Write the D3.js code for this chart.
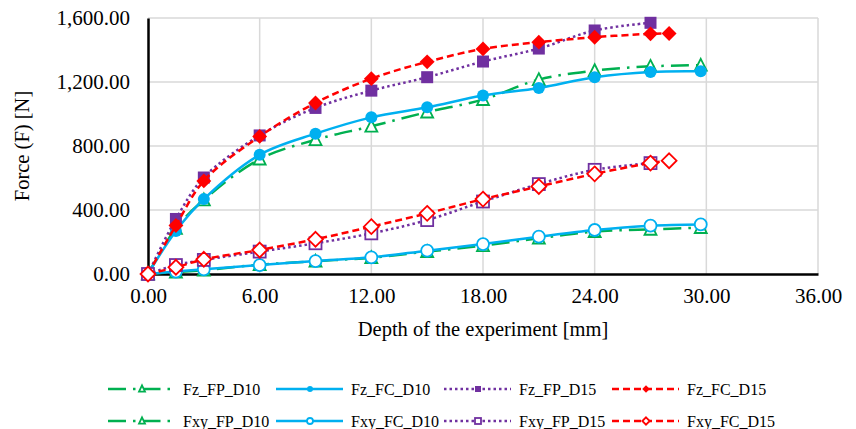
<!DOCTYPE html>
<html>
<head>
<meta charset="utf-8">
<script src="https://cdn.jsdelivr.net/npm/d3@7"></script>
<style>
  body { margin: 0; background: #fff; }
  text { font-family: "Liberation Serif", "Times New Roman", serif; fill: #000; }
</style>
</head>
<body>
<div id="chart"></div>
<script>
// depth values [mm]
var xD10 = [0, 1.5, 3, 6, 9, 12, 15, 18, 21, 24, 27, 29.7];
var xFP15 = [0, 1.5, 3, 6, 9, 12, 15, 18, 21, 24, 27];
var xFC15 = [0, 1.5, 3, 6, 9, 12, 15, 18, 21, 24, 27, 28];

// forces [N]
var fzFP10 = [0, 285, 463, 718, 839, 923, 1012, 1090, 1215, 1271, 1298, 1305];
var fzFC10 = [0, 269, 468, 745, 877, 979, 1042, 1115, 1163, 1230, 1263, 1267];
var fzFP15 = [0, 344, 603, 866, 1038, 1146, 1230, 1328, 1409, 1522, 1570];
var fzFC15 = [0, 303, 582, 860, 1069, 1221, 1326, 1407, 1449, 1480, 1501, 1503];
var fxyFP10 = [0, 12, 24, 58, 80, 102, 140, 177, 223, 265, 279, 290];
var fxyFC10 = [0, 15, 29, 56, 81, 104, 146, 187, 233, 275, 302, 310];
var fxyFP15 = [0, 56, 88, 140, 192, 254, 337, 453, 562, 651, 693];
var fxyFC15 = [0, 42, 92, 150, 217, 296, 379, 468, 547, 626, 693, 708];

var xTicks = [0, 6, 12, 18, 24, 30, 36];
var yTicks = [0, 400, 800, 1200, 1600];

var width = 856, height = 429;
var margin = { top: 18, right: 38, bottom: 155, left: 148 };

var series = [
  { name: 'Fz_FP_D10', x: xD10, y: fzFP10, color: '#00b050', dash: '18,7,2.5,7', marker: 'triangle', fill: false },
  { name: 'Fz_FC_D10', x: xD10, y: fzFC10, color: '#00b0f0', dash: null, marker: 'circle', fill: true },
  { name: 'Fz_FP_D15', x: xFP15, y: fzFP15, color: '#7030a0', dash: '2.5,3', marker: 'square', fill: true },
  { name: 'Fz_FC_D15', x: xFC15, y: fzFC15, color: '#ff0000', dash: '7,4', marker: 'diamond', fill: true },
  { name: 'Fxy_FP_D10', x: xD10, y: fxyFP10, color: '#00b050', dash: '18,7,2.5,7', marker: 'triangle', fill: false },
  { name: 'Fxy_FC_D10', x: xD10, y: fxyFC10, color: '#00b0f0', dash: null, marker: 'circle', fill: false },
  { name: 'Fxy_FP_D15', x: xFP15, y: fxyFP15, color: '#7030a0', dash: '2.5,3', marker: 'square', fill: false },
  { name: 'Fxy_FC_D15', x: xFC15, y: fxyFC15, color: '#ff0000', dash: '7,4', marker: 'diamond', fill: false }
];

var svg = d3.select('#chart').append('svg')
  .attr('width', width)
  .attr('height', height);

var x = d3.scaleLinear().domain([0, 36]).range([margin.left, width - margin.right]);
var y = d3.scaleLinear().domain([0, 1600]).range([height - margin.bottom, margin.top]);

// gridlines
svg.append('g').selectAll('line.gx')
  .data(xTicks.slice(1))
  .enter().append('line')
  .attr('x1', d => x(d)).attr('x2', d => x(d))
  .attr('y1', y(0)).attr('y2', y(1600))
  .attr('stroke', '#d9d9d9').attr('stroke-width', 1.5);

svg.append('g').selectAll('line.gy')
  .data(yTicks.slice(1))
  .enter().append('line')
  .attr('x1', x(0)).attr('x2', x(36))
  .attr('y1', d => y(d)).attr('y2', d => y(d))
  .attr('stroke', '#d9d9d9').attr('stroke-width', 1.5);

// axes
var fmt = d3.format(',.2f');
var xAxis = svg.append('g')
  .attr('transform', 'translate(0,' + y(0) + ')')
  .call(d3.axisBottom(x).tickValues(xTicks).tickFormat(fmt).tickSize(0).tickPadding(14));
var yAxis = svg.append('g')
  .attr('transform', 'translate(' + x(0) + ',0)')
  .call(d3.axisLeft(y).tickValues(yTicks).tickFormat(fmt).tickSize(0).tickPadding(18));

[xAxis, yAxis].forEach(function (g) {
  g.select('.domain').attr('stroke', '#000').attr('stroke-width', 2.5);
  g.selectAll('text')
    .style('font-family', '"Liberation Serif", "Times New Roman", serif')
    .style('font-size', '21px')
    .attr('fill', '#000');
});

svg.append('text')
  .attr('x', (x(0) + x(36)) / 2)
  .attr('y', 336)
  .attr('text-anchor', 'middle')
  .style('font-size', '20.5px')
  .text('Depth of the experiment [mm]');

svg.append('text')
  .attr('transform', 'translate(29,' + ((y(0) + y(1600)) / 2) + ') rotate(-90)')
  .attr('text-anchor', 'middle')
  .style('font-size', '20.5px')
  .text('Force (F) [N]');

// markers
function drawMarker(g, s, size) {
  var c = s.color;
  var fill = s.fill ? c : '#fff';
  var sw = s.fill ? 0 : 1.8;
  var m;
  if (s.marker === 'circle') {
    m = g.append('circle').attr('r', size / 2);
  } else if (s.marker === 'square') {
    m = g.append('rect').attr('x', -size / 2).attr('y', -size / 2).attr('width', size).attr('height', size);
  } else if (s.marker === 'diamond') {
    var h = size * 0.62;
    m = g.append('path').attr('d', 'M0,' + (-h) + 'L' + h + ',0L0,' + h + 'L' + (-h) + ',0Z');
  } else {
    var w = size / 2, t = size * 0.45;
    m = g.append('path').attr('d', 'M0,' + (-t - 1) + 'L' + w + ',' + t + 'L' + (-w) + ',' + t + 'Z');
    fill = '#fff';
    sw = 1.8;
  }
  m.attr('fill', fill).attr('stroke', c).attr('stroke-width', sw);
}

var line = d3.line()
  .x(d => x(d[0]))
  .y(d => y(d[1]))
  .curve(d3.curveCatmullRom.alpha(0.5));

series.forEach(function (s) {
  var pts = s.x.map((v, i) => [v, s.y[i]]);
  var g = svg.append('g').attr('class', 'series');
  g.append('path')
    .attr('d', line(pts))
    .attr('fill', 'none')
    .attr('stroke', s.color)
    .attr('stroke-width', 2.5)
    .attr('stroke-dasharray', s.dash);
  g.selectAll('g.pt')
    .data(pts)
    .enter().append('g')
    .attr('transform', d => 'translate(' + x(d[0]) + ',' + y(d[1]) + ')')
    .each(function () { drawMarker(d3.select(this), s, 12); });
});

// legend
var legend = svg.selectAll('.legendCells')
  .data(series)
  .enter().append('g')
  .attr('class', 'legendCells')
  .attr('transform', (d, i) => 'translate(' + (108 + (i % 4) * 168) + ',' + (389 + Math.floor(i / 4) * 32) + ')');

legend.append('line')
  .attr('x1', 0).attr('x2', 67)
  .attr('y1', 0).attr('y2', 0)
  .attr('stroke', d => d.color)
  .attr('stroke-width', 2.5)
  .attr('stroke-dasharray', d => d.dash);

legend.append('g')
  .attr('transform', 'translate(34,0)')
  .each(function (d) { drawMarker(d3.select(this), d, 6); });

legend.append('text')
  .attr('x', 75)
  .attr('y', 5.5)
  .style('font-size', '16px')
  .text(d => d.name);
</script>
</body>
</html>
